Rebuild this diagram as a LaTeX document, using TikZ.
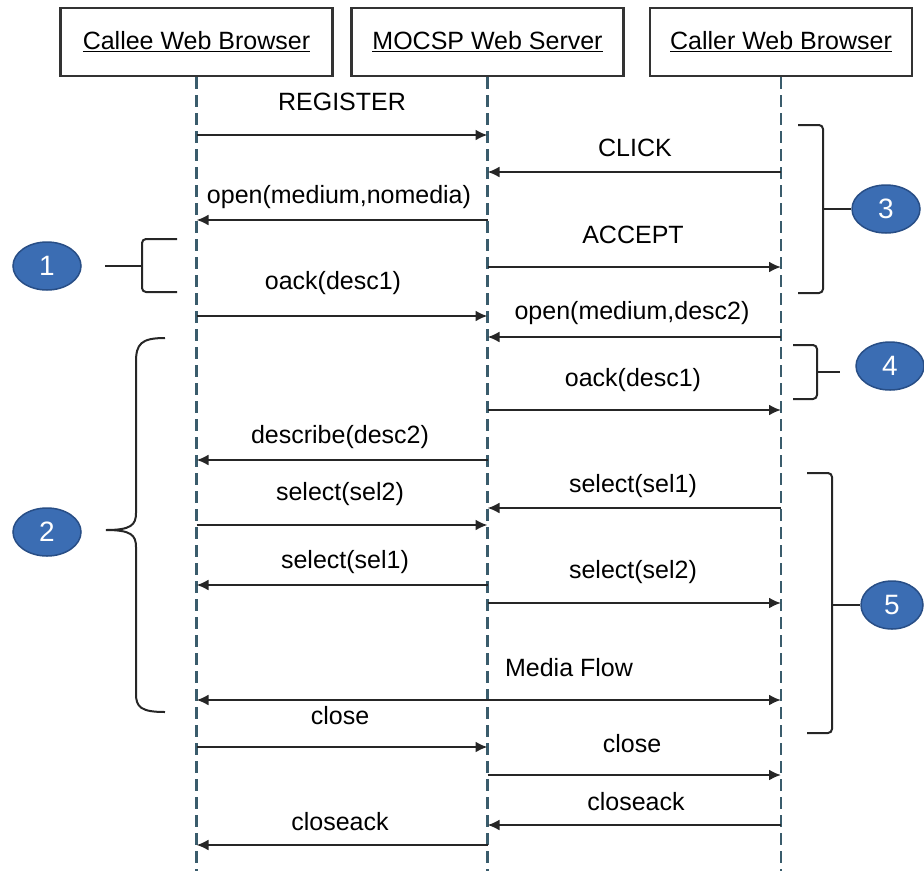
\documentclass[tikz,border=0pt]{standalone}
\usepackage{fontspec}
\setmainfont{Liberation Sans}
\usepackage{xcolor}
\usetikzlibrary{arrows.meta, positioning, shapes.geometric, calc}

\definecolor{lifeblue}{HTML}{3A5C6C}
\definecolor{ovalblue}{HTML}{3B6DB3}
\definecolor{ovalrim}{HTML}{284E86}

\begin{document}
\begin{tikzpicture}[x=1pt, y=-1pt, >={Latex[length=12pt,width=11pt]},
    font=\fontsize{25}{30}\selectfont,
    header/.style={draw=black!80, line width=2.5pt, minimum width=272pt, minimum height=68pt, inner sep=0pt},
    lifeline/.style={draw=lifeblue, line width=2.4pt, dash pattern=on 12pt off 6pt},
    msg/.style={->, line width=2.2pt, black!85},
    bracket/.style={line width=2pt, black!85, rounded corners=4pt},
    oval/.style={ellipse, draw=ovalrim, line width=1.5pt, fill=ovalblue, text=white,
        minimum width=68pt, minimum height=48pt, inner sep=0pt, font=\fontsize{28}{30}\selectfont}]
\useasboundingbox (0,0) rectangle (924,871);

% Participants
\node[header] (callee) at (196.5,42) {\underline{Callee Web Browser}};
\node[header] (server) at (487.5,42) {\underline{MOCSP Web Server}};
\node[header, minimum width=262pt] (caller) at (781,42) {\underline{Caller Web Browser}};

% Lifelines
\foreach \n in {callee, server, caller} {
    \draw[lifeline] (\n.south) -- (\n |- 0,871);
}

% Messages
\foreach \a/\b/\y in {callee/server/135, caller/server/172, server/callee/220,
        server/caller/267, callee/server/316, caller/server/337, server/caller/410,
        server/callee/460, callee/server/525, caller/server/508, server/callee/585,
        server/caller/603, callee/server/747, server/caller/775, caller/server/825,
        server/callee/845} {
    \draw[msg] (\a |- 0,\y) -- (\b |- 0,\y);
}
\draw[msg, <->] (callee |- 0,700) -- (caller |- 0,700);

% Message labels
\foreach \x/\y/\t [count=\i] in {342/102/REGISTER, 635/148/CLICK, 339/197/{open(medium,nomedia)},
        633/235/ACCEPT, 333/283/oack(desc1), 632/313/{open(medium,desc2)}, 633/380/oack(desc1),
        340/437/describe(desc2), 340/494/select(sel2), 633/486/select(sel1), 345/562/select(sel1),
        633/572/select(sel2), 569/668/Media Flow, 340/716/close, 632/744/close,
        636/802/closeack, 340/822/closeack} {
    \node (lbl\i) at (\x,\y) {\t};
}

% Phase markers
\node[oval] (ph1) at (47,266) {1};
\node[oval] (ph2) at (47,532) {2};
\node[oval] (ph3) at (886,209) {3};
\node[oval] (ph4) at (890,366) {4};
\node[oval, minimum width=62pt] (ph5) at (892,605) {5};

% Brackets
\draw[bracket] (177,239) -- (142,239) -- (142,292) -- (177,292);
\draw[bracket] (142,266) -- (105,266);
\draw[line width=2pt, black!85] (165,338) .. controls (141,338) and (136,344) .. (136,362)
    -- (136,513) .. controls (136,525) and (131,530) .. (106,530)
    .. controls (131,530) and (136,535) .. (136,547)
    -- (136,694) .. controls (136,707) and (141,712) .. (165,712);
\draw[bracket] (798,125) -- (823,125) -- (823,293) -- (798,293);
\draw[bracket] (ph3.west -| 823,0) -- (ph3.west);
\draw[bracket] (793,345) -- (817,345) -- (817,399) -- (793,399);
\draw[bracket] (817,372) -- (840,372);
\draw[bracket] (807,473) -- (832,473) -- (832,733) -- (807,733);
\draw[bracket] (ph5.west -| 832,0) -- (ph5.west);

\end{tikzpicture}
\end{document}
